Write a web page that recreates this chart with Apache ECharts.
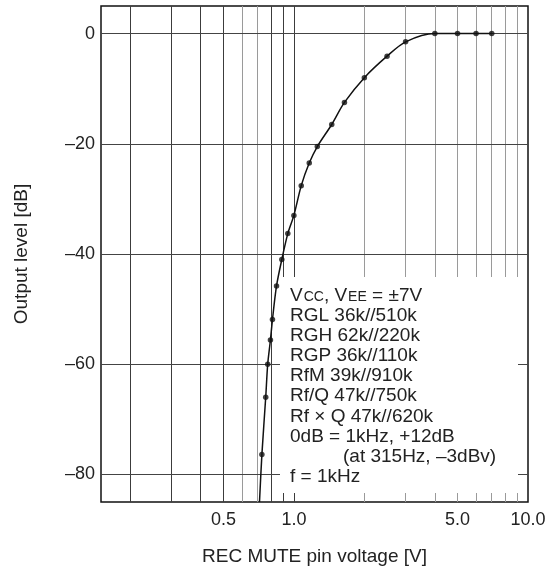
<!DOCTYPE html>
<html>
<head>
<meta charset="utf-8">
<script src="https://cdn.jsdelivr.net/npm/echarts@6/dist/echarts.min.js"></script>
<style>
  html, body { margin: 0; padding: 0; background: #fff; }
  #chart { width: 555px; height: 569px; }
</style>
</head>
<body>
<div id="chart"></div>
<script>
// ---- data ----
const voltages = [0.73, 0.758, 0.773, 0.794, 0.81, 0.843, 0.888, 0.942, 1.0, 1.075, 1.163, 1.259, 1.451, 1.644, 2.0, 2.5, 3.0, 4.0, 5.0, 6.0, 7.0];
const levels   = [-76.4, -66.0, -60.0, -55.6, -51.9, -45.8, -41.0, -36.3, -33.0, -27.6, -23.5, -20.5, -16.5, -12.5, -8.0, -4.1, -1.5, 0, 0, 0, 0];
const curveEntry = [0.713, -85];           // where the curve leaves the bottom of the plot
const xGridValues = [0.2, 0.3, 0.4, 0.5, 0.6, 0.7, 0.8, 0.9, 1, 2, 3, 4, 5, 6, 7, 8, 9];
const xTickValues = [0.5, 1, 5, 10];
const xTickLabels = ['0.5', '1.0', '5.0', '10.0'];
const yTickValues = [0, -20, -40, -60, -80];
const xRange = [0.15, 10];
const yRange = [-85, 5];
const noteLines = [
  '{n|V}{s|CC}{n|, V}{s|EE}{n| = \u00b17V}',
  'RGL 36k//510k',
  'RGH 62k//220k',
  'RGP 36k//110k',
  'RfM 39k//910k',
  'Rf/Q 47k//750k',
  'Rf \u00d7 Q 47k//620k',
  '0dB = 1kHz, +12dB',
  '(at 315Hz, \u20133dBv)',
  'f = 1kHz'
];

// ---- chart ----
const FONT = "'Liberation Sans', Arial, Helvetica, sans-serif";
const chart = echarts.init(document.getElementById('chart'), null, { renderer: 'canvas' });

const points = voltages.map((v, i) => [v, levels[i]]);
const curve = [curveEntry].concat(points);
const fmtY = v => (v < 0 ? '\u2013' + Math.abs(v) : String(v));
const lightGrid = v => (v === 0.6 || v === 0.7 || v >= 2);

const noteTextX = 290, noteTop = 296, notePitch = 20.05;
const graphics = [{
  type: 'rect', z: 50,
  shape: { x: 280, y: 277, width: 238, height: 216 },
  style: { fill: '#ffffff' }
}];
noteLines.forEach((t, i) => {
  graphics.push({
    type: 'text', z: 51,
    x: (i === 8 ? 343 : noteTextX), y: noteTop + i * notePitch,
    style: {
      text: t,
      fill: '#222', fontSize: 19, fontFamily: FONT,
      align: 'left', verticalAlign: 'middle',
      textAlign: 'left', textVerticalAlign: 'middle',
      rich: {
        n: { fontSize: 19, fontFamily: FONT, fill: '#222', color: '#222' },
        s: { fontSize: 14, fontFamily: FONT, fill: '#222', color: '#222', verticalAlign: 'bottom', padding: [0, 0, 1, 1] }
      }
    }
  });
});

const option = {
  backgroundColor: '#fff',
  animation: false,
  grid: {
    left: 101, right: 27, top: 6, bottom: 67, containLabel: false, outerBoundsMode: 'none',
    show: true, borderColor: '#111', borderWidth: 1.5, backgroundColor: 'transparent'
  },
  xAxis: {
    type: 'log', logBase: 10, min: xRange[0], max: xRange[1],
    name: 'REC MUTE pin voltage [V]', nameLocation: 'middle', nameGap: 45,
    nameTextStyle: { fontSize: 19, fontFamily: FONT, color: '#222' },
    axisLine: { show: false }, axisTick: { show: false },
    axisLabel: { show: false }, splitLine: { show: false }, minorTick: { show: false }
  },
  yAxis: {
    type: 'value', min: yRange[0], max: yRange[1], interval: 5,
    name: 'Output level [dB]', nameLocation: 'middle', nameGap: 70,
    nameTextStyle: { fontSize: 19, fontFamily: FONT, color: '#222' },
    axisLine: { show: false }, axisTick: { show: false }, splitLine: { show: false },
    axisLabel: {
      margin: 6, fontSize: 18, fontFamily: FONT, color: '#222',
      formatter: v => (yTickValues.indexOf(v) >= 0 ? fmtY(v) : '')
    }
  },
  graphic: graphics,
  series: [
    {
      type: 'line', name: 'grid', data: [], silent: true, z: 1,
      markLine: {
        silent: true, symbol: 'none', animation: false,
        label: { show: false },
        data: xGridValues.map(v => ({
          xAxis: v,
          lineStyle: { color: lightGrid(v) ? '#9a9a9a' : '#3c3c3c', width: 1, type: 'solid' }
        })).concat(yTickValues.map(v => ({
          yAxis: v,
          lineStyle: { color: '#444', width: 1, type: 'solid' }
        })))
      }
    },
    {
      type: 'line', name: 'ticks', data: [], silent: true, z: 1,
      markLine: {
        silent: true, symbol: 'none', animation: false,
        lineStyle: { color: 'rgba(0,0,0,0)', width: 0 },
        label: { show: true, position: 'start', distance: 9, fontSize: 18, fontFamily: FONT, color: '#222', formatter: '{b}' },
        data: xTickValues.map((v, i) => ({ xAxis: v, name: xTickLabels[i] }))
      }
    },
    {
      type: 'line', name: 'curve', data: curve, smooth: 0.3, showSymbol: false, symbol: 'none',
      lineStyle: { color: '#111', width: 1.5 }, z: 5, clip: true
    },
    {
      type: 'scatter', name: 'points', data: points, symbol: 'circle', symbolSize: 5.5,
      itemStyle: { color: '#111' }, z: 6
    }
  ]
};
chart.setOption(option);
</script>
</body>
</html>
